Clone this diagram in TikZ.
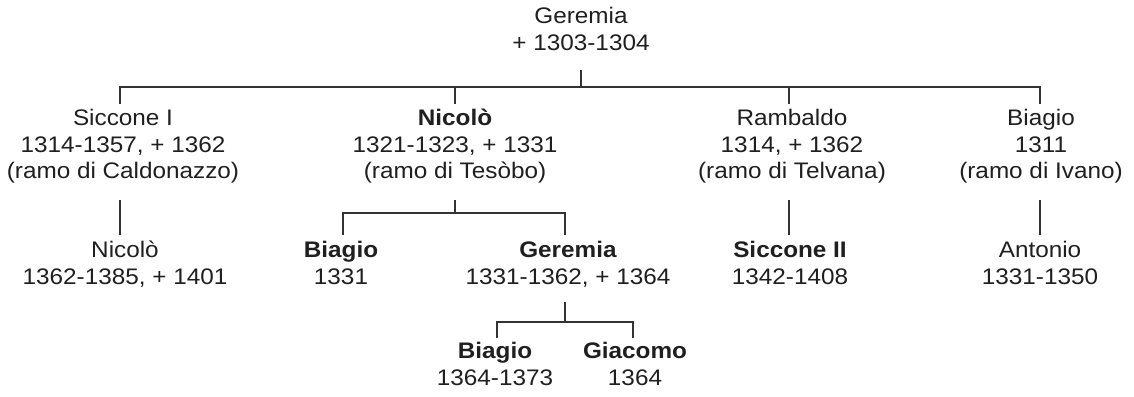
\documentclass[tikz,border=0pt]{standalone}
\usepackage{fontspec}
\setmainfont{Liberation Sans}[FakeStretch=1.08]
\begin{document}
\begin{tikzpicture}[x=1pt,y=-1pt,
  person/.style={align=center, inner sep=0pt, anchor=north, text=black!88,
    font=\fontsize{22.5}{26.5}\selectfont, execute at begin node={\rule{0pt}{20pt}}},
  link/.style={draw=black!80, line width=1.5pt}]
\useasboundingbox (0,0) rectangle (1134,396);
% people
\node[person] (g)   at (581,7)   {Geremia\\+ 1303-1304};
\node[person] (s1)  at (123,109) {Siccone I\\1314-1357, + 1362\\(ramo di Caldonazzo)};
\node[person] (n1)  at (455,109) {\textbf{Nicolò}\\1321-1323, + 1331\\(ramo di Tesòbo)};
\node[person] (r)   at (792,109) {Rambaldo\\1314, + 1362\\(ramo di Telvana)};
\node[person] (b1)  at (1041,109) {Biagio\\1311\\(ramo di Ivano)};
\node[person] (n2)  at (125,241) {Nicolò\\1362-1385, + 1401};
\node[person] (b2)  at (341,241) {\textbf{Biagio}\\1331};
\node[person] (g2)  at (568,241) {\textbf{Geremia}\\1331-1362, + 1364};
\node[person] (s2)  at (790,241) {\textbf{Siccone II}\\1342-1408};
\node[person] (a)   at (1040,241) {Antonio\\1331-1350};
\node[person] (b3)  at (495,342) {\textbf{Biagio}\\1364-1373};
\node[person] (gi)  at (635,342) {\textbf{Giacomo}\\1364};
% junction points
\coordinate (gtop) at (581,70);  \coordinate (gbar) at (581,87);
\coordinate (s1up) at (120,87);  \coordinate (s1dn) at (120,104);
\coordinate (n1up) at (455,87);  \coordinate (n1dn) at (455,104);
\coordinate (rup)  at (789,87);  \coordinate (rdn)  at (789,104);
\coordinate (b1up) at (1040,87); \coordinate (b1dn) at (1040,104);
\coordinate (s1a) at (120,200);  \coordinate (s1b) at (120,235);
\coordinate (ra)  at (789,200);  \coordinate (rb)  at (789,235);
\coordinate (b1a) at (1040,200); \coordinate (b1b) at (1040,235);
\coordinate (n1a) at (455,200);  \coordinate (n1bar) at (455,213);
\coordinate (b2up) at (343,213); \coordinate (b2dn) at (343,235);
\coordinate (g2up) at (565,213); \coordinate (g2dn) at (565,235);
\coordinate (g2a) at (565,302);  \coordinate (g2bar) at (565,322);
\coordinate (b3up) at (497,322); \coordinate (b3dn) at (497,338);
\coordinate (giup) at (633,322); \coordinate (gidn) at (633,338);
% connectors
\draw[link] (gtop) -- (gbar);
\draw[link] (s1dn) -- (s1up) -- (b1up) -- (b1dn);
\draw[link] (n1up) -- (n1dn);
\draw[link] (rup) -- (rdn);
\draw[link] (s1a) -- (s1b);
\draw[link] (ra) -- (rb);
\draw[link] (b1a) -- (b1b);
\draw[link] (n1a) -- (n1bar);
\draw[link] (b2dn) -- (b2up) -- (g2up) -- (g2dn);
\draw[link] (g2a) -- (g2bar);
\draw[link] (b3dn) -- (b3up) -- (giup) -- (gidn);
\end{tikzpicture}
\end{document}
